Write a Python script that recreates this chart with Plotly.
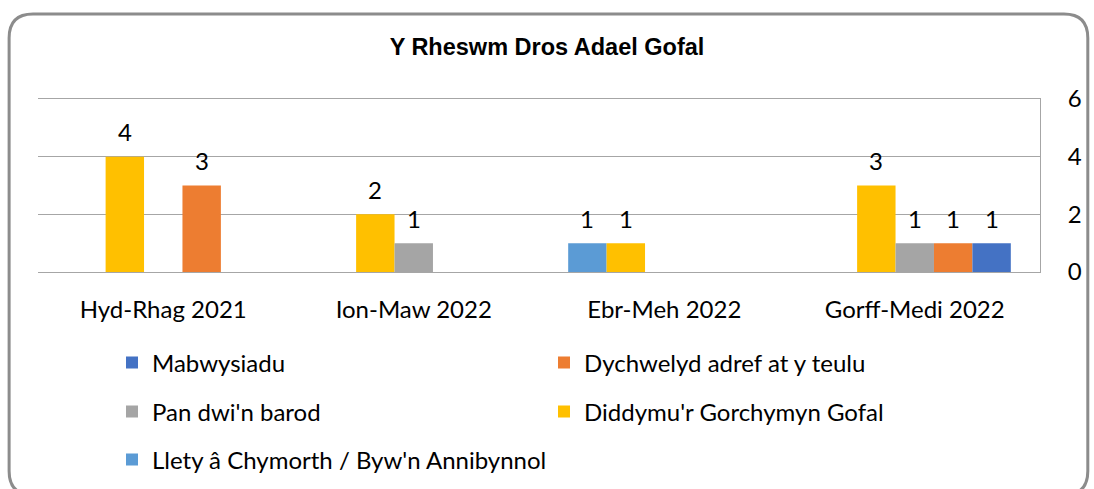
import plotly.graph_objects as go

categories = ["Hyd-Rhag 2021", "Ion-Maw 2022", "Ebr-Meh 2022", "Gorff-Medi 2022"]
llety = [0, 0, 1, 0]
diddymu = [4, 2, 1, 3]
pan_barod = [0, 1, 0, 1]
dychwelyd = [3, 0, 0, 1]
mabwysiadu = [0, 0, 0, 1]
y_ticks = [0, 2, 4, 6]

series = [
    ("Llety â Chymorth / Byw'n Annibynnol", llety, "#5B9BD5", "legend3"),
    ("Diddymu'r Gorchymyn Gofal", diddymu, "#FFC000", "legend2"),
    ("Pan dwi'n barod", pan_barod, "#A5A5A5", "legend2"),
    ("Dychwelyd adref at y teulu", dychwelyd, "#ED7D31", "legend"),
    ("Mabwysiadu", mabwysiadu, "#4472C4", "legend"),
]

W, H = 1094, 489
L, R, T, B = 38, 50, 99, 217
PW, PH = W - L - R, H - T - B
BARGAP = 0.233

FONT = "Lato"
FS = 24
GRID = "#A6A6A6"

fig = go.Figure()
n = len(series)
slot = (1 - BARGAP) / n
for k, (name, vals, color, lg) in enumerate(series):
    fig.add_trace(go.Bar(
        name=name, x=categories, y=vals, marker_color=color,
        marker_line_width=0, legend=lg,
    ))
    # data labels above non-zero bars
    for i, v in enumerate(vals):
        if v:
            fig.add_annotation(
                x=i + (k - (n - 1) / 2) * slot, y=v, xref="x", yref="y",
                text=str(v), showarrow=False, yanchor="middle", yshift=25,
                font=dict(family=FONT, size=FS, color="#000"),
            )

def px2paper(x, y):
    return (x - L) / PW, (H - B - y) / PH

# rounded border
x0, y0, x1, y1, r = 9, 14, 1092, 495, 24
def P(x, y):
    a, b = px2paper(x, y)
    return f"{a:.5f},{b:.5f}"
path = (f"M{P(x0 + r, y0)} L{P(x1 - r, y0)} Q{P(x1, y0)} {P(x1, y0 + r)} "
        f"L{P(x1, y1 - r)} Q{P(x1, y1)} {P(x1 - r, y1)} L{P(x0 + r, y1)} "
        f"Q{P(x0, y1)} {P(x0, y1 - r)} L{P(x0, y0 + r)} Q{P(x0, y0)} {P(x0 + r, y0)} Z")
fig.add_shape(type="path", path=path, xref="paper", yref="paper",
              line=dict(color="#8C8C8C", width=3), layer="below")

legfont = dict(family=FONT, size=FS, color="#000")
def leg(ypix, ew):
    return dict(orientation="h", xref="container", yref="container",
                x=112 / W, xanchor="left", y=1 - ypix / H, yanchor="middle",
                font=legfont, entrywidth=ew, entrywidthmode="pixels",
                traceorder="reversed", bgcolor="rgba(0,0,0,0)")

fig.update_layout(
    width=W, height=H, autosize=False,
    margin=dict(l=L, r=R, t=T, b=B),
    paper_bgcolor="white", plot_bgcolor="white",
    barmode="group", bargap=BARGAP, bargroupgap=0,
    title=dict(text="<b>Y Rheswm Dros Adael Gofal</b>", x=0.5, xanchor="center",
               y=1 - 47 / H, yanchor="middle",
               font=dict(family="Liberation Sans", size=23.5, color="#000")),
    xaxis=dict(showline=True, mirror=True, linecolor=GRID, linewidth=1, ticks="",
               ticklabelstandoff=16,
               tickfont=dict(family=FONT, size=FS, color="#000"), fixedrange=True),
    yaxis=dict(side="right", range=[0, 6], tickvals=y_ticks, showgrid=True,
               gridcolor=GRID, gridwidth=1, showline=True, linecolor=GRID,
               zeroline=False, ticks="", ticklabelstandoff=22,
               tickfont=dict(family=FONT, size=FS, color="#000")),
    legend=leg(363, 387), legend2=leg(412, 387), legend3=leg(460, 600),
    showlegend=True,
)

fig.write_html("out.html", config={"displayModeBar": False, "responsive": False},
               post_script="document.body.style.margin='0';")
